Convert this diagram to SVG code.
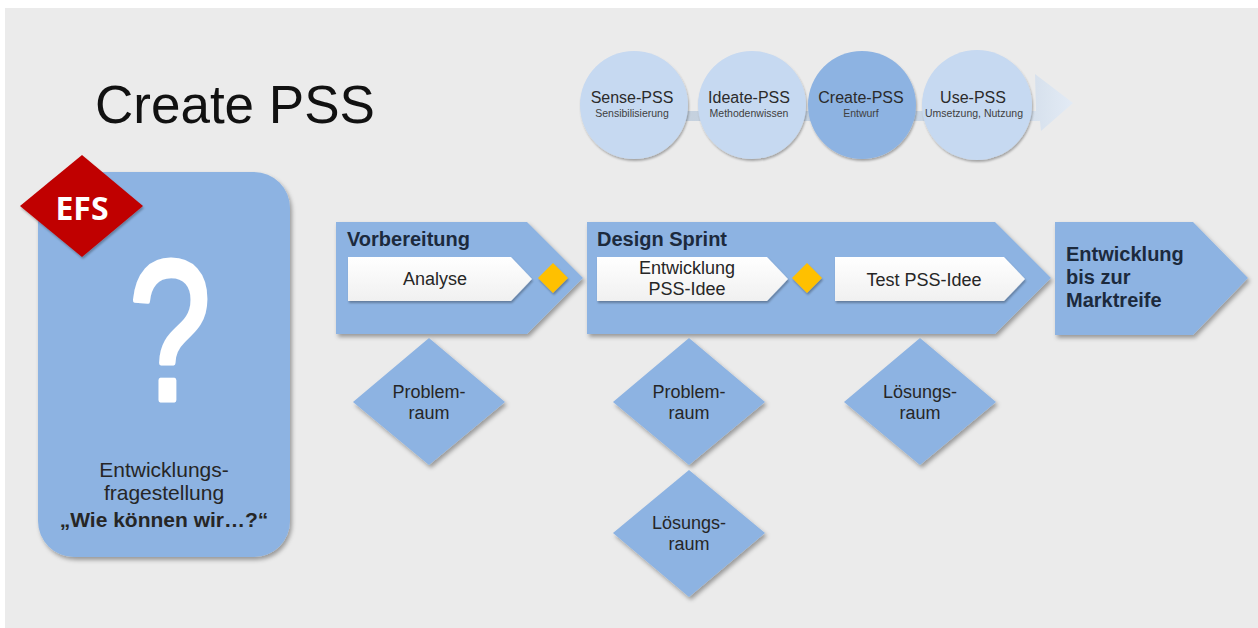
<svg xmlns="http://www.w3.org/2000/svg" width="1258" height="628" viewBox="0 0 1258 628">
  <defs>
    <style>
      .blue { fill: #8db3e2; }
      .light { fill: #c6d9f1; }
      .white { fill: url(#wgrad); }
      .gold { fill: #ffc000; }
      .t { font-family: "Liberation Sans", Arial, sans-serif; fill: #262626; }
      .hdr { font-family: "Liberation Sans", Arial, sans-serif; font-weight: bold; fill: #1c2a3d; font-size: 20px; }
      .lbl { font-size: 18px; text-anchor: middle; }
      .ct { font-size: 16px; text-anchor: middle; fill: #2b2b2b; }
      .cs { font-size: 10.5px; text-anchor: middle; fill: #404040; }
    </style>
    <filter id="sh" x="-15%" y="-15%" width="140%" height="140%">
      <feDropShadow dx="2" dy="3" stdDeviation="2" flood-color="#000" flood-opacity="0.35"/>
    </filter>
    <filter id="shs" x="-15%" y="-15%" width="140%" height="140%">
      <feDropShadow dx="1" dy="2" stdDeviation="1.2" flood-color="#000" flood-opacity="0.3"/>
    </filter>
    <linearGradient id="wgrad" x1="0" y1="0" x2="0" y2="1">
      <stop offset="0" stop-color="#ffffff"/>
      <stop offset="1" stop-color="#f0f0f0"/>
    </linearGradient>
    <linearGradient id="agrad" x1="0" y1="0" x2="1" y2="0">
      <stop offset="0" stop-color="#c3cfdc"/>
      <stop offset="0.85" stop-color="#ccd8e6"/>
      <stop offset="1" stop-color="#e3ebf5"/>
    </linearGradient>
  </defs>

  <rect x="0" y="0" width="1258" height="628" fill="#ffffff"/>
  <rect x="5" y="8" width="1253" height="620" fill="#ebebeb"/>

  <g id="title">
    <text x="95" y="123" font-family="Liberation Sans, Arial, sans-serif" font-size="53" fill="#111111">Create PSS</text>
  </g>

  <g id="connectors">
    <path d="M600,111 H1036 L1035,74 L1073,103 L1041,131 L1040,121 H600 Z" fill="url(#agrad)"/>
  </g>

  <g id="sense-pss">
    <circle cx="634" cy="105" r="54" class="light" filter="url(#shs)"/>
    <text class="t ct" x="632" y="103">Sense-PSS</text>
    <text class="t cs" x="632" y="117">Sensibilisierung</text>
  </g>
  <g id="ideate-pss">
    <circle cx="752" cy="105" r="54" class="light" filter="url(#shs)"/>
    <text class="t ct" x="749" y="103">Ideate-PSS</text>
    <text class="t cs" x="749" y="117">Methodenwissen</text>
  </g>
  <g id="create-pss">
    <circle cx="862" cy="105" r="54" class="blue" filter="url(#shs)"/>
    <text class="t ct" x="861" y="103">Create-PSS</text>
    <text class="t cs" x="861" y="117">Entwurf</text>
  </g>
  <g id="use-pss">
    <circle cx="977" cy="105" r="55" class="light" filter="url(#shs)"/>
    <text class="t ct" x="973" y="103">Use-PSS</text>
    <text class="t cs" x="974" y="117">Umsetzung, Nutzung</text>
  </g>

  <g id="efs-card">
    <rect x="38" y="172" width="252" height="385" rx="36" ry="36" class="blue" filter="url(#sh)"/>
    <text transform="translate(170,400) scale(0.74,1)" x="0" y="0" font-family="Liberation Sans, Arial, sans-serif" font-size="200" fill="#ffffff" stroke="#ffffff" stroke-width="5" stroke-linejoin="round" text-anchor="middle">?</text>
    <text class="t" x="164" y="477" font-size="21" text-anchor="middle" fill="#1e2736">Entwicklungs-</text>
    <text class="t" x="164" y="500" font-size="21" text-anchor="middle" fill="#1e2736">fragestellung</text>
    <text class="t" x="164" y="527" font-size="21" font-weight="bold" text-anchor="middle" fill="#1e2736">„Wie können wir…?“</text>
  </g>
  <g id="efs-badge">
    <polygon points="82,155 143,206 82,257 20,206" fill="#c00000" filter="url(#shs)"/>
    <text x="82" y="220" font-family="Open Sans, Liberation Sans, sans-serif" font-size="32" font-weight="bold" fill="#ffffff" text-anchor="middle">EFS</text>
  </g>

  <g id="vorbereitung">
    <path d="M336,222 H527 L583,278 L527,334 H336 Z" class="blue" filter="url(#sh)"/>
    <text class="hdr" x="347" y="246">Vorbereitung</text>
  </g>
  <g id="analyse">
    <path d="M348,257 H511 L532,279 L511,301 H348 Z" class="white" filter="url(#shs)"/>
    <text class="t lbl" x="435" y="285">Analyse</text>
  </g>
  <g id="milestone-1">
    <polygon points="553,263 568,278 553,293 538,278" class="gold" filter="url(#shs)"/>
  </g>

  <g id="design-sprint">
    <path d="M587,222 H995 L1051,278 L995,334 H587 Z" class="blue" filter="url(#sh)"/>
    <text class="hdr" x="597" y="246">Design Sprint</text>
  </g>
  <g id="entwicklung-pss-idee">
    <path d="M597,257 H767 L788,279 L767,301 H597 Z" class="white" filter="url(#shs)"/>
    <text class="t lbl" x="687" y="274">Entwicklung</text>
    <text class="t lbl" x="687" y="295">PSS-Idee</text>
  </g>
  <g id="milestone-2">
    <polygon points="807,263 822,278 807,293 792,278" class="gold" filter="url(#shs)"/>
  </g>
  <g id="test-pss-idee">
    <path d="M835,257 H1004 L1025,279 L1004,301 H835 Z" class="white" filter="url(#shs)"/>
    <text class="t lbl" x="924" y="286">Test PSS-Idee</text>
  </g>

  <g id="marktreife">
    <path d="M1055,222 H1193 L1248,278 L1193,335 H1055 Z" class="blue" filter="url(#sh)"/>
    <text class="hdr" x="1066" y="261">Entwicklung</text>
    <text class="hdr" x="1066" y="284">bis zur</text>
    <text class="hdr" x="1066" y="307">Marktreife</text>
  </g>

  <g id="problemraum-1">
    <polygon points="429,338 505,402 429,465 353,402" class="blue" filter="url(#sh)"/>
    <text class="t lbl" x="429" y="398">Problem-</text>
    <text class="t lbl" x="429" y="419">raum</text>
  </g>
  <g id="problemraum-2">
    <polygon points="689,338 765,402 689,465 613,402" class="blue" filter="url(#sh)"/>
    <text class="t lbl" x="689" y="398">Problem-</text>
    <text class="t lbl" x="689" y="419">raum</text>
  </g>
  <g id="loesungsraum-1">
    <polygon points="920,338 996,402 920,465 844,402" class="blue" filter="url(#sh)"/>
    <text class="t lbl" x="920" y="398">Lösungs-</text>
    <text class="t lbl" x="920" y="419">raum</text>
  </g>
  <g id="loesungsraum-2">
    <polygon points="689,470 765,533 689,597 613,533" class="blue" filter="url(#sh)"/>
    <text class="t lbl" x="689" y="529">Lösungs-</text>
    <text class="t lbl" x="689" y="550">raum</text>
  </g>
</svg>
